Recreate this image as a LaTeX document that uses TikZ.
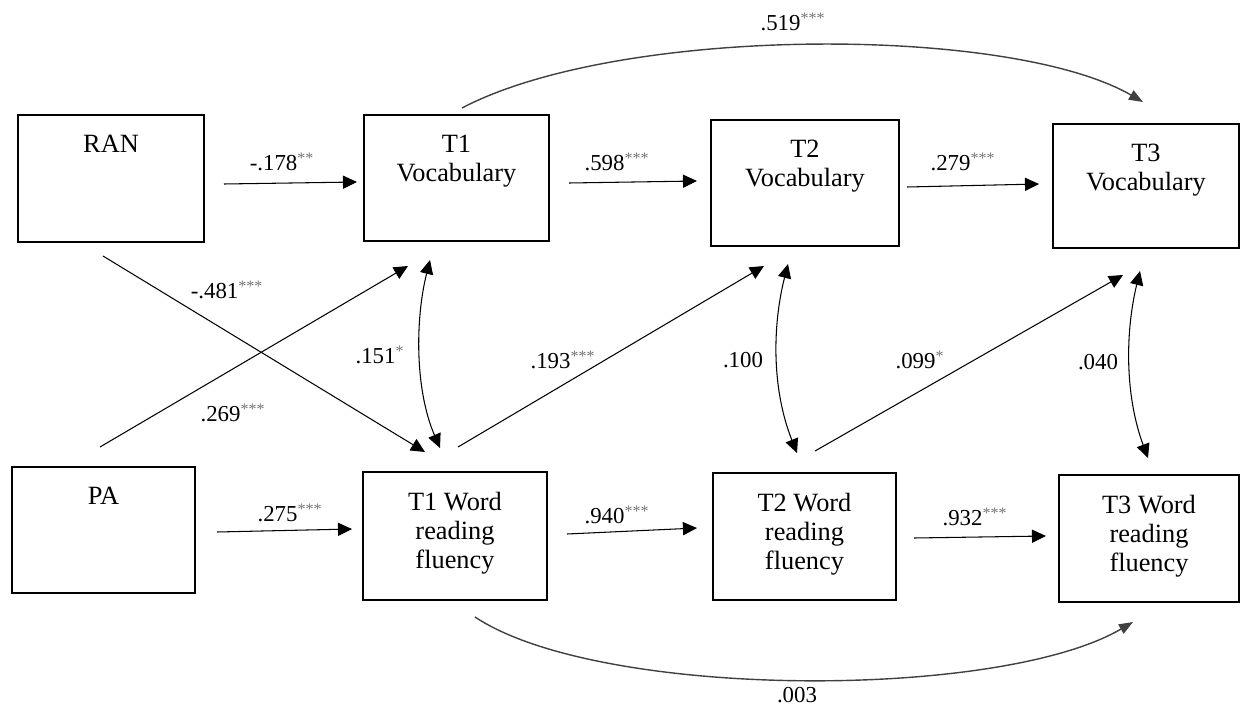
\documentclass[tikz,border=0pt]{standalone}
\usepackage{fontspec}
\setmainfont{Liberation Serif}
\usetikzlibrary{arrows.meta}
\newcommand{\st}[1]{\textcolor{black!55}{\textsuperscript{#1}}}
\newcommand{\bxt}[3]{\parbox[c][#2][t]{#1}{\centering\vspace*{0.4cm}#3\par}}
\begin{document}
\begin{tikzpicture}[x=0.02cm,y=-0.02cm,
  box/.style={draw, line width=1.1pt, inner sep=0pt, font=\fontsize{15}{16.5}\selectfont},
  lab/.style={font=\fontsize{13}{15}\selectfont, inner sep=1pt},
  arr/.style={line width=0.6pt, -{Triangle[length=8pt,width=7.5pt]}},
  darr/.style={line width=0.6pt, {Triangle[length=8pt,width=7.5pt]}-{Triangle[length=8pt,width=7.5pt]}},
  curv/.style={line width=0.8pt, draw=black!75, -{Triangle[length=8pt,width=6pt]}}]
\useasboundingbox (0,0) rectangle (1241,710);

% boxes
\node[box] (ran) at (111,178.5) {\bxt{3.72cm}{2.54cm}{RAN}};
\node[box] (t1v) at (456.5,178) {\bxt{3.70cm}{2.52cm}{T1\\Vocabulary}};
\node[box] (t2v) at (805,183) {\bxt{3.76cm}{2.52cm}{T2\\Vocabulary}};
\node[box] (t3v) at (1146,186) {\bxt{3.72cm}{2.48cm}{T3\\Vocabulary}};
\node[box] (pa) at (103.5,530) {\bxt{3.66cm}{2.52cm}{PA}};
\node[box] (t1w) at (455,536) {\bxt{3.68cm}{2.56cm}{T1 Word\\reading\\fluency}};
\node[box] (t2w) at (804.5,536.5) {\bxt{3.66cm}{2.54cm}{T2 Word\\reading\\fluency}};
\node[box] (t3w) at (1149,538.5) {\bxt{3.60cm}{2.54cm}{T3 Word\\reading\\fluency}};

% connector end points
\coordinate (ranE) at (224,184);   \coordinate (t1vW) at (357,182);
\coordinate (t1vE) at (569,183);   \coordinate (t2vW) at (697,181);
\coordinate (t2vE) at (907,187);   \coordinate (t3vW) at (1039,184);
\coordinate (paE) at (217,532);    \coordinate (t1wW) at (352,529);
\coordinate (t1wE) at (567,534);   \coordinate (t2wW) at (697,528);
\coordinate (t2wE) at (914,538);   \coordinate (t3wW) at (1046,536);
\coordinate (ranS) at (103,256);   \coordinate (t1wNa) at (425,452);
\coordinate (paN) at (100,447);    \coordinate (t1vSa) at (408,266);
\coordinate (t1wNb) at (458,447);  \coordinate (t2vSa) at (764,266);
\coordinate (t2wNb) at (815,451);  \coordinate (t3vSa) at (1123,275);
\coordinate (t1vSb) at (430,260);  \coordinate (t1wNc) at (440,448);
\coordinate (t2vSb) at (788,264);  \coordinate (t2wNc) at (797,453);
\coordinate (t3vSb) at (1140,271); \coordinate (t3wNc) at (1148,458);
\coordinate (t1vN) at (462,108);   \coordinate (t3vN) at (1143,102);
\coordinate (t1wS) at (475,617);   \coordinate (t3wS) at (1133,622);

% horizontal paths
\draw[arr] (ranE) -- (t1vW);
\draw[arr] (t1vE) -- (t2vW);
\draw[arr] (t2vE) -- (t3vW);
\draw[arr] (paE) -- (t1wW);
\draw[arr] (t1wE) -- (t2wW);
\draw[arr] (t2wE) -- (t3wW);

% diagonal paths
\draw[arr] (ranS) -- (t1wNa);
\draw[arr] (paN) -- (t1vSa);
\draw[arr] (t1wNb) -- (t2vSa);
\draw[arr] (t2wNb) -- (t3vSa);

% correlations
\draw[darr] (t1vSb) .. controls (415,320) and (415,390) .. (t1wNc);
\draw[darr] (t2vSb) .. controls (772,327) and (772,390) .. (t2wNc);
\draw[darr] (t3vSb) .. controls (1125,333) and (1125,396) .. (t3wNc);

% long curves
\draw[curv] (t1vN) .. controls (620,25) and (1010,25) .. (t3vN);
\draw[curv] (t1wS) .. controls (600,700) and (1000,700) .. (t3wS);

% labels
\node[lab] (l178) at (282,162) {-.178\st{**}};
\node[lab] (l598) at (617,162) {.598\st{***}};
\node[lab] (l279) at (963,162) {.279\st{***}};
\node[lab] (l275) at (290,513) {.275\st{***}};
\node[lab] (l940) at (617,515) {.940\st{***}};
\node[lab] (l932) at (975,517) {.932\st{***}};
\node[lab] (l481) at (227,290) {-.481\st{***}};
\node[lab] (l269) at (233,413) {.269\st{***}};
\node[lab] (l193) at (563,360) {.193\st{***}};
\node[lab] (l099) at (920,360) {.099\st{*}};
\node[lab] (l151) at (380,355) {.151\st{*}};
\node[lab] (l100) at (743,360) {.100};
\node[lab] (l040) at (1098,362) {.040};
\node[lab] (l519) at (793,22) {.519\st{***}};
\node[lab] (l003) at (797,695) {.003};
\end{tikzpicture}
\end{document}
